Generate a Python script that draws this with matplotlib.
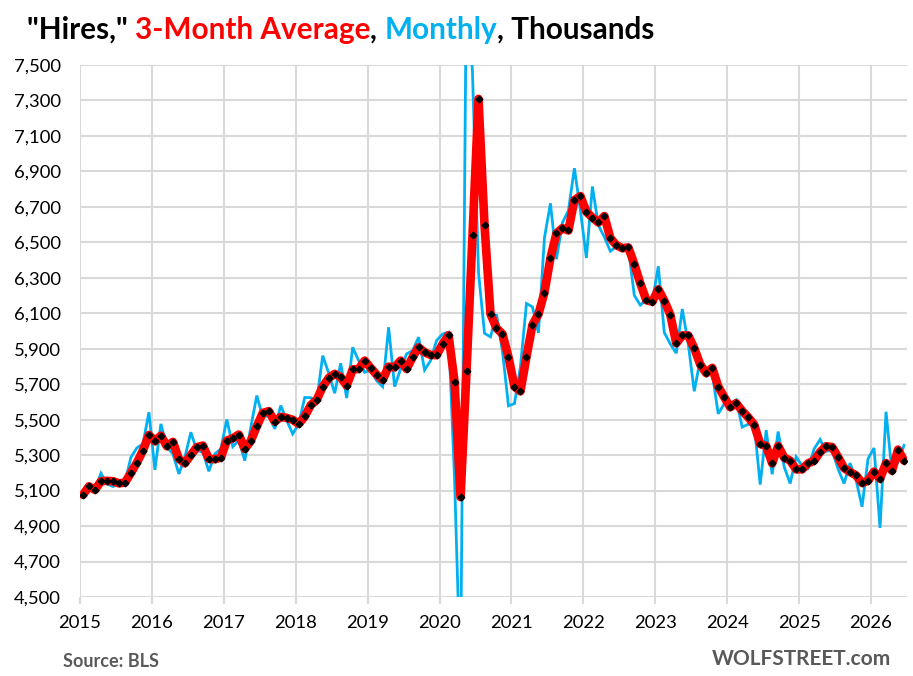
import matplotlib
matplotlib.use("Agg")
import matplotlib.pyplot as plt
from matplotlib.ticker import FuncFormatter
import numpy as np

plt.rcParams['font.family'] = ['Lato', 'DejaVu Sans']

years = list(range(2015, 2027))

# 3-month average of hires, thousands (Jan 2015 .. Jun 2026)
avg3 = [
    5076, 5124, 5104, 5153, 5155, 5153, 5141, 5145, 5200, 5258, 5326, 5414,   # 2015
    5378, 5410, 5350, 5375, 5279, 5254, 5301, 5345, 5354, 5279, 5277, 5286,   # 2016
    5382, 5395, 5416, 5335, 5380, 5463, 5538, 5548, 5489, 5516, 5510, 5499,   # 2017
    5476, 5518, 5582, 5612, 5686, 5735, 5758, 5740, 5692, 5783, 5786, 5833,   # 2018
    5792, 5754, 5724, 5799, 5795, 5833, 5786, 5852, 5908, 5880, 5865, 5864,   # 2019
    5926, 5976, 5714, 5063, 5774, 6543, 7309, 6598, 6095, 6016, 5983, 5853,   # 2020
    5687, 5660, 5854, 6035, 6095, 6217, 6411, 6550, 6580, 6567, 6738, 6761,   # 2021
    6672, 6640, 6612, 6648, 6524, 6484, 6467, 6471, 6377, 6268, 6174, 6165,   # 2022
    6235, 6171, 6092, 5931, 5975, 5975, 5903, 5811, 5762, 5792, 5687, 5627,   # 2023
    5570, 5593, 5549, 5514, 5472, 5363, 5352, 5254, 5352, 5286, 5269, 5220,   # 2024
    5220, 5254, 5269, 5318, 5350, 5346, 5289, 5227, 5205, 5186, 5143, 5156,   # 2025
    5207, 5167, 5255, 5212, 5331, 5269,                                       # 2026
]

# Monthly hires, thousands
monthly = [
    5072, 5119, 5109, 5198, 5138, 5123, 5138, 5147, 5288, 5341, 5363, 5542,   # 2015
    5217, 5476, 5345, 5307, 5194, 5288, 5429, 5326, 5316, 5209, 5307, 5335,   # 2016
    5501, 5348, 5382, 5269, 5457, 5636, 5514, 5523, 5448, 5580, 5495, 5420,   # 2017
    5476, 5625, 5624, 5603, 5861, 5763, 5649, 5818, 5622, 5908, 5833, 5767,   # 2018
    5780, 5720, 5686, 6021, 5686, 5786, 5871, 5889, 5965, 5780, 5833, 5946,   # 2019
    5983, 5993, 5166, 4030, 8100, 7450, 6328, 5987, 5967, 6094, 5885, 5578,   # 2020
    5591, 5800, 6155, 6136, 5990, 6525, 6720, 6405, 6611, 6679, 6918, 6680,   # 2021
    6412, 6815, 6596, 6530, 6450, 6476, 6469, 6470, 6200, 6146, 6178, 6166,   # 2022
    6365, 5991, 5927, 5875, 6124, 5926, 5660, 5840, 5775, 5760, 5533, 5590,   # 2023
    5590, 5612, 5458, 5474, 5475, 5134, 5441, 5192, 5433, 5235, 5140, 5290,   # 2024
    5240, 5226, 5335, 5388, 5322, 5326, 5222, 5140, 5255, 5160, 5009, 5280,   # 2025
    5340, 4890, 5545, 5200, 5260, 5355,                                       # 2026
]

W, H = 913, 676
fig = plt.figure(figsize=(W / 100, H / 100), dpi=100)
L, R, T, B = 80, 907, 65, 597
ax = fig.add_axes([L / W, 1 - B / H, (R - L) / W, (B - T) / H])

x = np.arange(len(monthly)) + 0.5
ax.plot(x, monthly, color='#00B0F0', lw=2.0, zorder=3, solid_joinstyle='miter')
ax.plot(x, avg3, color='#FF0000', lw=6.2, zorder=4, solid_joinstyle='round', solid_capstyle='round')
ax.plot(x, avg3, ls='none', marker='D', ms=3.4, color='black', zorder=5)

ax.set_xlim(0, 138)
ax.set_ylim(4500, 7500)
ax.set_yticks(range(4500, 7501, 200))
ax.yaxis.set_major_formatter(FuncFormatter(lambda v, p: f"{int(v):,}"))
ax.set_xticks([12 * i for i in range(len(years))])
ax.set_xticklabels([str(y) for y in years])
ax.grid(True, color='#D9D9D9', lw=1.5, zorder=0)
ax.set_axisbelow(True)
for s in ax.spines.values():
    s.set_visible(False)
ax.tick_params(axis='y', length=0, pad=14, labelsize=13.3, labelcolor='black')
ax.tick_params(axis='x', length=5, color='#D9D9D9', width=1.5, pad=8, labelsize=13.3, labelcolor='black')

# Multi-coloured title
pieces = [('"Hires," ', 'black'), ('3-Month Average', '#FF0000'), (', ', 'black'),
          ('Monthly', '#00B0F0'), (', Thousands', 'black')]
renderer = fig.canvas.get_renderer()
xpos = 27 / W
for txt, col in pieces:
    t = fig.text(xpos, 1 - 39 / H, txt, color=col, fontsize=21.4, fontweight='bold',
                 ha='left', va='baseline')
    bb = t.get_window_extent(renderer=renderer)
    xpos = bb.x1 / fig.bbox.width

fig.text(63 / W, 1 - 667 / H, "Source: BLS", color='#595959', fontsize=13,
         fontweight='bold', ha='left', va='baseline')
fig.text(891 / W, 1 - 665 / H, "WOLFSTREET.com", color='#595959', fontsize=15,
         fontweight='bold', ha='right', va='baseline')

fig.savefig("out.png", dpi=100)
